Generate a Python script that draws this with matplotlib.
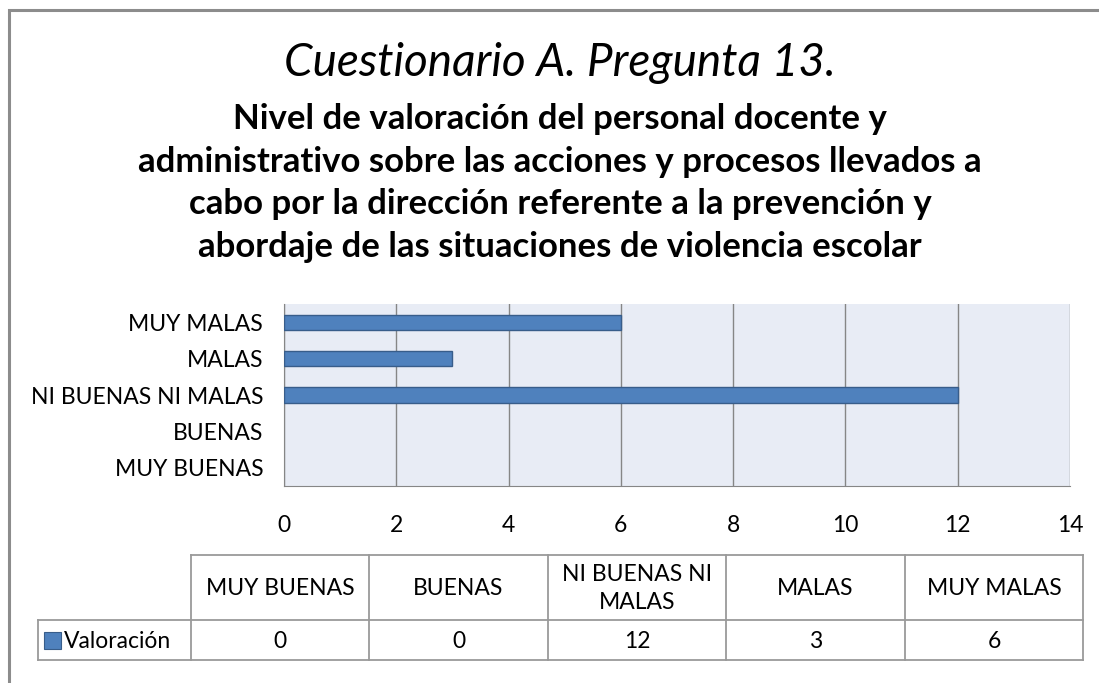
import textwrap

import matplotlib
matplotlib.use("Agg")
import matplotlib.pyplot as plt

plt.rcParams["font.family"] = ["Lato", "DejaVu Sans"]

TITLE = "Cuestionario A. Pregunta 13."
SUBTITLE = ("Nivel de valoración del personal docente y\n"
            "administrativo sobre las acciones y procesos llevados a\n"
            "cabo por la dirección referente a la prevención y\n"
            "abordaje de las situaciones de violencia escolar")
CATEGORIES = ["MUY BUENAS", "BUENAS", "NI BUENAS NI MALAS", "MALAS", "MUY MALAS"]
VALUES = [0, 0, 12, 3, 6]
SERIES = "Valoración"
XTICKS = [0, 2, 4, 6, 8, 10, 12, 14]

BAR = "#4F81BD"
BAR_EDGE = "#385D8A"
GRID = "#868686"
BG = "#E8ECF5"
FS = 16.5

W, H = 1099, 683
fig = plt.figure(figsize=(W / 100, H / 100), dpi=100)


def fx(px):
    return px / W


def fy(py):
    return 1 - py / H


# overlay in pixel coordinates for frame + data table
ov = fig.add_axes([0, 0, 1, 1], zorder=0)
ov.set_xlim(0, W)
ov.set_ylim(H, 0)
ov.axis("off")
ov.plot([9, 9, W + 5], [H + 5, 10, 10], color="#8c8c8c", lw=2.2,
        solid_joinstyle="miter", clip_on=False)

fig.text(fx(560), fy(63), TITLE, ha="center", va="center",
         fontsize=33, style="italic")
fig.text(fx(560), fy(183), SUBTITLE, ha="center", va="center",
         fontsize=25, fontweight="bold", linespacing=1.4)

# bar chart
ax = fig.add_axes([fx(284), fy(486), fx(1070) - fx(284), fy(304) - fy(486)],
                  zorder=1)
ax.set_facecolor(BG)
ypos = list(range(len(CATEGORIES)))
ax.barh(ypos, VALUES, height=0.42, color=BAR, edgecolor=BAR_EDGE,
        linewidth=[1 if v else 0 for v in VALUES], zorder=3)
ax.set_xlim(XTICKS[0], XTICKS[-1])
ax.set_ylim(-0.5, len(CATEGORIES) - 0.5)
ax.set_xticks(XTICKS)
ax.set_yticks(ypos)
ax.set_yticklabels(CATEGORIES)
ax.xaxis.grid(True, color=GRID, linewidth=1)
ax.set_axisbelow(True)
for s in ["top", "right"]:
    ax.spines[s].set_visible(False)
for s in ["left", "bottom"]:
    ax.spines[s].set_color(GRID)
ax.tick_params(length=0, labelsize=FS, colors="black")
ax.tick_params(axis="x", pad=21)
ax.tick_params(axis="y", pad=15)

# data table below
col_edges = [38, 191, 369, 548, 726, 905, 1083]
row_edges = [555, 620, 660]
tcol = "#9a9a9a"
ov.plot([col_edges[1], col_edges[-1]], [row_edges[0]] * 2, color=tcol, lw=1.3)
ov.plot([col_edges[0], col_edges[-1]], [row_edges[1]] * 2, color=tcol, lw=1.3)
ov.plot([col_edges[0], col_edges[-1]], [row_edges[2]] * 2, color=tcol, lw=1.3)
ov.plot([col_edges[0]] * 2, [row_edges[1], row_edges[2]], color=tcol, lw=1.3)
for x in col_edges[1:]:
    ov.plot([x, x], [row_edges[0], row_edges[2]], color=tcol, lw=1.3)

for i, (cat, val) in enumerate(zip(CATEGORIES, VALUES)):
    cx = (col_edges[i + 1] + col_edges[i + 2]) / 2
    ov.text(cx, (row_edges[0] + row_edges[1]) / 2 + 1, textwrap.fill(cat, 12),
            ha="center", va="center", fontsize=FS, linespacing=1.45)
    ov.text(cx, (row_edges[1] + row_edges[2]) / 2 + 1, str(val),
            ha="center", va="center", fontsize=FS)

ov.add_patch(plt.Rectangle((44, 632), 17, 17, facecolor=BAR,
                           edgecolor=BAR_EDGE, lw=0.8))
ov.text(64, (row_edges[1] + row_edges[2]) / 2 + 1, SERIES,
        ha="left", va="center", fontsize=FS)

fig.savefig("out.png", dpi=100)
